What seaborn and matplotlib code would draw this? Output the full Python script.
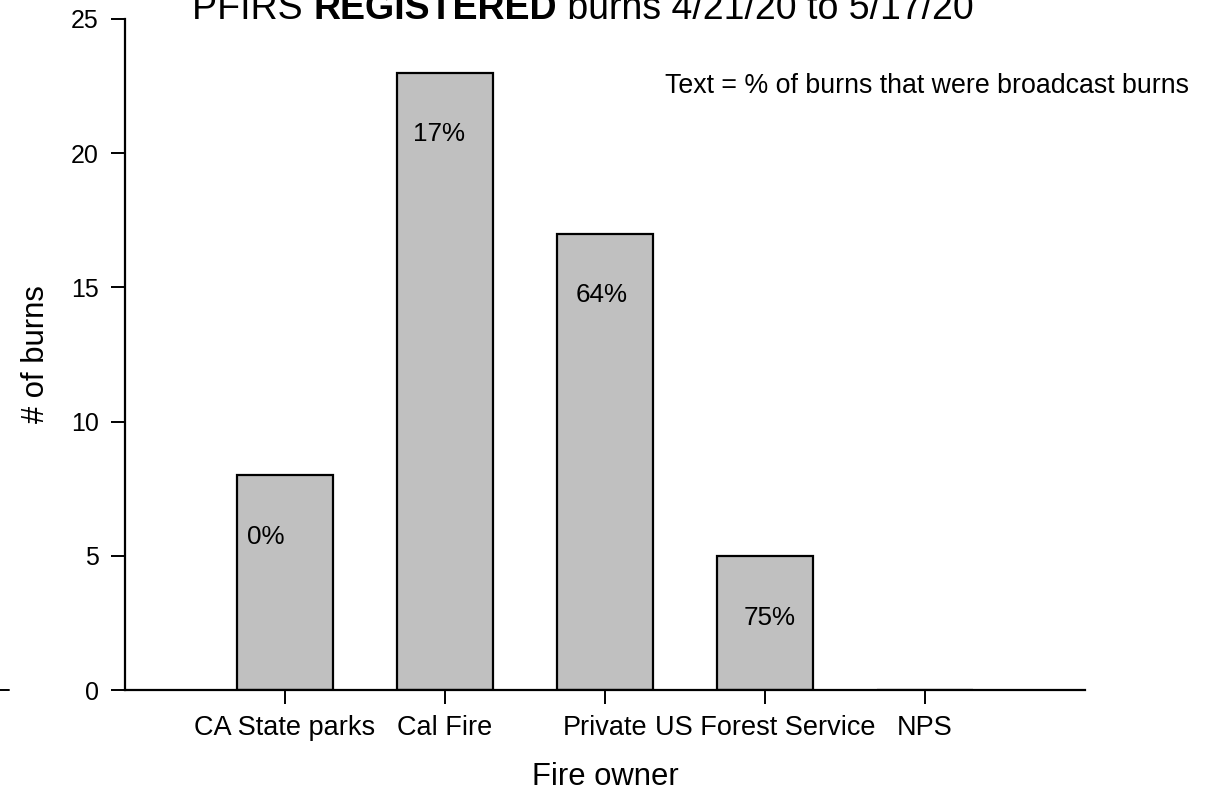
import matplotlib
matplotlib.use("Agg")
import matplotlib.pyplot as plt
import seaborn as sns
import pandas as pd
from matplotlib.lines import Line2D

# ---- data ----
owners = ["CA State parks", "Cal Fire", "Private", "US Forest Service", "NPS"]
burns = [8, 23, 17, 5, 0]
broadcast_pct = ["0%", "17%", "64%", "75%", None]
y_ticks = [0, 5, 10, 15, 20, 25]

title_parts = ["PFIRS ", "REGISTERED", " burns 4/21/20 to 5/17/20"]
title_bold = [False, True, False]
note_text = "Text = % of burns that were broadcast burns"
x_label = "Fire owner"
y_label = "# of burns"

sns.set_theme(style="ticks")
plt.rcParams["font.family"] = ["Liberation Sans", "DejaVu Sans"]

df = pd.DataFrame({"owner": owners, "burns": burns})

W, H = 1220, 802
fig = plt.figure(figsize=(W / 100, H / 100), dpi=100)
ax = fig.add_axes([125 / W, 1 - 690 / H, 960 / W, 671 / H])

sns.barplot(data=df, x="owner", y="burns", order=owners, color="#c0c0c0",
            edgecolor="black", linewidth=1.6, width=0.6, saturation=1, ax=ax)
for p in ax.patches:
    p.set_facecolor("#c0c0c0")

ax.set_xlim(-1, 5)
ax.set_ylim(0, 25)
ax.set_yticks(y_ticks)
sns.despine(ax=ax)
for s in ["left", "bottom"]:
    ax.spines[s].set_linewidth(1.6)
    ax.spines[s].set_color("black")
ax.tick_params(axis="both", direction="out", length=10, width=1.4, color="black",
               pad=9, labelcolor="black")
ax.tick_params(axis="y", labelsize=18)
ax.tick_params(axis="x", labelsize=19.5, pad=8)

ax.set_xlabel(x_label, fontsize=22.3, color="black")
ax.set_ylabel(y_label, fontsize=22.3, color="black")
ax.xaxis.set_label_coords(0.5, -0.107)
ax.yaxis.set_label_coords(-0.077, 0.5)

# percentage labels inside bars
label_dx = [-0.12, -0.04, -0.02, 0.03, 0.0]
for i, (h, t) in enumerate(zip(burns, broadcast_pct)):
    if t is None:
        continue
    ax.text(i + label_dx[i], h - 2.3, t, ha="center", va="center",
            fontsize=18.7, color="black")

fig.text(665 / W, 1 - 86 / H, note_text, ha="left", va="center",
         fontsize=19.3, color="black")

# title with bold middle part, centered
fig.canvas.draw()
renderer = fig.canvas.get_renderer()
texts = []
for part, b in zip(title_parts, title_bold):
    t = fig.text(0, 1 - 19 / H, part, fontsize=27,
                 fontweight="bold" if b else "normal", va="baseline",
                 ha="left", color="black")
    texts.append(t)
widths = [t.get_window_extent(renderer).width for t in texts]
x0 = 583 - sum(widths) / 2
for t, w in zip(texts, widths):
    t.set_x(x0 / W)
    x0 += w

# small stray mark at far left
fig.add_artist(Line2D([0, 9 / W], [1 - 690 / H, 1 - 690 / H],
                      transform=fig.transFigure, color="black", linewidth=1.4))

fig.savefig("out.png", dpi=100, facecolor="white")
